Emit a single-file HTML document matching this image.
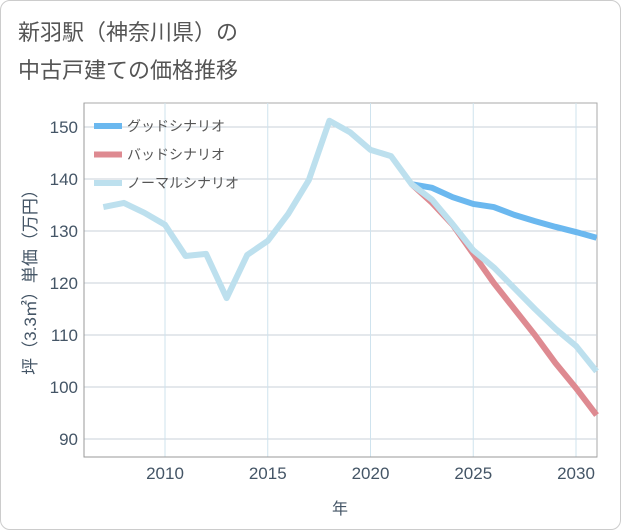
<!DOCTYPE html>
<html><head><meta charset="utf-8"><style>
body{margin:0;background:#fff;font-family:"Liberation Sans","Noto Sans CJK JP",sans-serif}
#wrap{position:relative;width:619px;height:528px;border:1px solid #ccc;border-radius:10px;overflow:hidden;background:#fff}
</style></head><body>
<div id="wrap">
<svg id="chart" width="621" height="530" style="position:absolute;left:-1px;top:-1px">
<text x="18" y="40" font-size="22" fill="#555">新羽駅（神奈川県）の</text>
<text x="18" y="78" font-size="22" fill="#555">中古戸建ての価格推移</text>
<text transform="translate(36,278) rotate(-90)" text-anchor="middle" font-size="17" fill="#456">坪（3.3㎡）単価（万円）</text>
<text x="340" y="514" text-anchor="middle" font-size="16" fill="#456">年</text>
<g id="grid"></g><g id="series"></g><g id="legend"></g>
</svg>
</div>
<script>
const years=[2007,2008,2009,2010,2011,2012,2013,2014,2015,2016,2017,2018,2019,2020,2021,2022,2023,2024,2025,2026,2027,2028,2029,2030,2031];
const normal=[134.6,135.4,133.5,131.2,125.2,125.6,117.1,125.4,128.1,133.3,139.8,151.2,149,145.6,144.4,139,136,131.3,126.3,123,119,115,111.2,107.9,103];
const goodYears=[2022,2023,2024,2025,2026,2027,2028,2029,2030,2031];
const good=[139,138.3,136.5,135.2,134.6,133.1,131.9,130.8,129.8,128.7];
const bad=[139,135.4,131.2,125.6,120,115,110,104.6,99.8,94.6];
const xTicks=[2010,2015,2020,2025,2030];
const yTicks=[90,100,110,120,130,140,150];
const names=["グッドシナリオ","バッドシナリオ","ノーマルシナリオ"];
const NS="http://www.w3.org/2000/svg";
const L=84,R=597,T=103,B=457;
const x=y=>165+(y-2010)*20.55;
const yv=v=>127+(150-v)*5.2;
function mk(t,a,p){const e=document.createElementNS(NS,t);for(const k in a)e.setAttribute(k,a[k]);p.appendChild(e);return e;}
const g=document.getElementById('grid');
const bg=mk('rect',{x:L,y:T,width:R-L,height:B-T,fill:'#fff',stroke:'#aaa'},g);


yTicks.forEach(v=>{
 const l=mk('line',{x1:L,x2:R,y1:yv(v),y2:yv(v),stroke:'#c8d0d8'},g);
 
 
 const t=mk('text',{x:L-6,y:yv(v)+6,'text-anchor':'end','font-size':17,fill:'#456'},g);t.textContent=v;
 
 
});
xTicks.forEach(v=>{
 const l=mk('line',{x1:x(v),x2:x(v),y1:T,y2:B,stroke:'#cfe3ee'},g);
 
 
 const t=mk('text',{x:x(v),y:B+22,'text-anchor':'middle','font-size':17,fill:'#456'},g);t.textContent=v;
 
 
});
const ax=mk('path',{d:`M${L},${T}V${B}H${R}`,fill:'none',stroke:'#999'},g);


const s=document.getElementById('series');
function line(xs,vs,c,n){const p=mk('polyline',{points:xs.map((yy,i)=>x(yy)+','+yv(vs[i])).join(' '),fill:'none',stroke:c,'stroke-width':6,'stroke-linejoin':'round'},s);
 
 }
line(goodYears,good,'#6bb8ef','good-scenario-line');
line(goodYears,bad,'#de8a91','bad-scenario-line');
line(years,normal,'#bde0ee','normal-scenario-line');
const lg=document.getElementById('legend');
['#6bb8ef','#de8a91','#bde0ee'].forEach((c,i)=>{
 const yy=126+i*28.5;
 const r=mk('rect',{x:94,y:yy-3,width:28,height:6,fill:c},lg);
 
 
 const t=mk('text',{x:127,y:yy+5,'font-size':14,fill:'#555'},lg);t.textContent=names[i];
 
 
});
</script>
</body></html>
